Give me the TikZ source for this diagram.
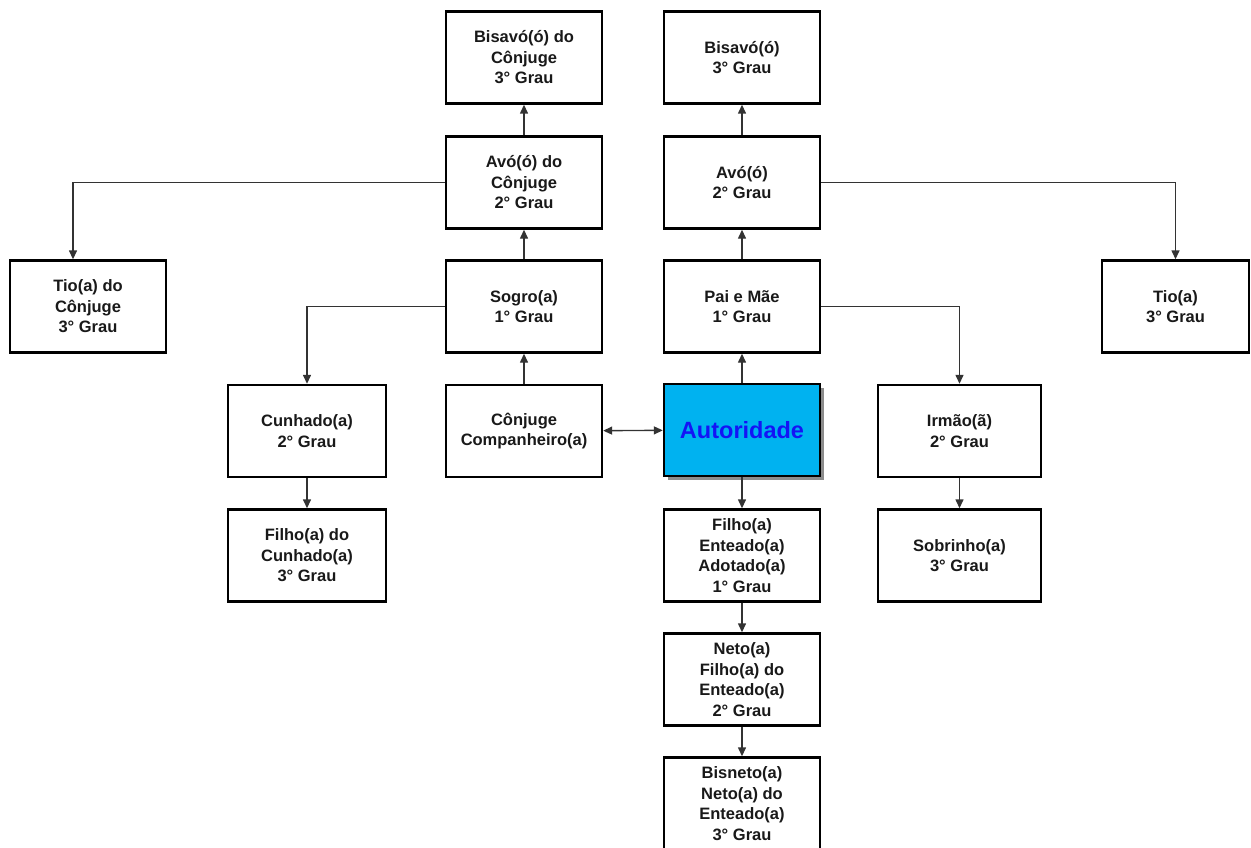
\documentclass[tikz,border=0pt]{standalone}
\usepackage{fontspec}
\setmainfont{Liberation Sans}
\usepackage{tikz}
\usetikzlibrary{arrows.meta,shadows}

\definecolor{autfill}{RGB}{0,178,240}
\definecolor{auttext}{RGB}{20,20,245}

\begin{document}
\begin{tikzpicture}[x=1pt,y=-1pt,
  grau/.style={draw,line width=2.4pt,fill=white,minimum width=156pt,minimum height=92pt,
    inner sep=0pt,align=center,text=black!90,font=\bfseries\fontsize{16.5}{20.5}\selectfont},
  link/.style={line width=1.4pt,draw=black!80,->},
  >={Triangle[length=9pt,width=8pt]}]
\path[use as bounding box,clip] (0,0) rectangle (1251,848);

\node[grau] (bisavoc) at (524,57.5) {Bisavó(ó) do\\Cônjuge\\3° Grau};
\node[grau] (avoc) at (524,182.5) {Avó(ó) do\\Cônjuge\\2° Grau};
\node[grau] (sogro) at (524,306.5) {Sogro(a)\\1° Grau};
\node[grau] (conjuge) at (524,431) {Cônjuge\\Companheiro(a)};

\node[grau] (bisavo) at (742,57.5) {Bisavó(ó)\\3° Grau};
\node[grau] (avo) at (742,182.5) {Avó(ó)\\2° Grau};
\node[grau] (pais) at (742,306.5) {Pai e Mãe\\1° Grau};
\node[grau,fill=autfill,text=auttext,font=\bfseries\fontsize{23.5}{26}\selectfont,
  drop shadow={shadow xshift=4pt,shadow yshift=-4pt,fill=black!45,opacity=1}]
  (aut) at (742,430) {Autoridade};
\node[grau] (filho) at (742,555.5) {Filho(a)\\Enteado(a)\\Adotado(a)\\1° Grau};
\node[grau] (neto) at (742,679.5) {Neto(a)\\Filho(a) do\\Enteado(a)\\2° Grau};
\node[grau] (bisneto) at (742,803.5) {Bisneto(a)\\Neto(a) do\\Enteado(a)\\3° Grau};

\node[grau] (tioc) at (88,306.5) {Tio(a) do\\Cônjuge\\3° Grau};
\node[grau,minimum width=158pt] (cunhado) at (307,431) {Cunhado(a)\\2° Grau};
\node[grau,minimum width=158pt] (filhocun) at (307,555.5) {Filho(a) do\\Cunhado(a)\\3° Grau};

\node[grau,minimum width=163pt] (irmao) at (959.5,431) {Irmão(ã)\\2° Grau};
\node[grau,minimum width=163pt] (sobrinho) at (959.5,555.5) {Sobrinho(a)\\3° Grau};
\node[grau,minimum width=147pt] (tio) at (1175.5,306.5) {Tio(a)\\3° Grau};

\draw[link] (avoc) -- (bisavoc);
\draw[link] (sogro) -- (avoc);
\draw[link] (conjuge) -- (sogro);
\draw[link] (avo) -- (bisavo);
\draw[link] (pais) -- (avo);
\draw[link] (aut) -- (pais);
\draw[link] (aut) -- (filho);
\draw[link] (filho) -- (neto);
\draw[link] (neto) -- (bisneto);
\draw[link] (cunhado) -- (filhocun);
\draw[link] (irmao) -- (sobrinho);
\draw[link,<->] (conjuge) -- (aut);
\draw[link] (avoc.west) -| ([xshift=-15pt]tioc.north);
\draw[link] (sogro.west) -| (cunhado.north);
\draw[link] (pais.east) -| (irmao.north);
\draw[link] (avo.east) -| (tio.north);
\end{tikzpicture}
\end{document}
